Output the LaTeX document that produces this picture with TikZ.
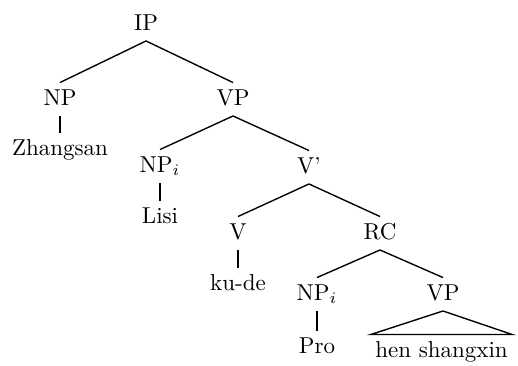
\documentclass[tikz,border=0pt]{standalone}
\begin{document}
\begin{tikzpicture}[x=0.4348pt,y=-0.4348pt,
  lab/.style={anchor=base,text height=7pt,text depth=2pt,inner ysep=2.57pt,inner xsep=1.8pt,font=\fontsize{10}{12}\selectfont},
  edge/.style={line width=0.6pt}]
\useasboundingbox (0,0) rectangle (518,365);
\node[lab] (IP) at (146,30) {IP};
\node[lab] (NP1) at (60,105) {NP};
\node[lab] (VP1) at (233,105) {VP};
\node[lab] (zh) at (60,155) {Zhangsan};
\node[lab] (NPi1) at (160,172) {NP$_i$};
\node[lab] (Vbar) at (309,173) {V'};
\node[lab] (lisi) at (160,223) {Lisi};
\node[lab] (V) at (238,239) {V};
\node[lab] (RC) at (380,239) {RC};
\node[lab] (kude) at (238,290) {ku-de};
\node[lab] (NPi2) at (317,300) {NP$_i$};
\node[lab] (VP2) at (443,300) {VP};
\node[lab] (pro) at (317,353) {Pro};
\node[lab] (hen) at (441.5,357) {hen shangxin};
\draw[edge] (IP.south) -- (NP1.north);
\draw[edge] (IP.south) -- (VP1.north);
\draw[edge] (NP1.south) -- (zh.north);
\draw[edge] (VP1.south) -- (NPi1.north);
\draw[edge] (VP1.south) -- (Vbar.north);
\draw[edge] (NPi1.south) -- (lisi.north);
\draw[edge] (Vbar.south) -- (V.north);
\draw[edge] (Vbar.south) -- (RC.north);
\draw[edge] (V.south) -- (kude.north);
\draw[edge] (RC.south) -- (NPi2.north);
\draw[edge] (RC.south) -- (VP2.north);
\draw[edge] (NPi2.south) -- (pro.north);
\draw[edge] (VP2.south) -- (hen.north west) -- (hen.north east) -- cycle;
\end{tikzpicture}
\end{document}
